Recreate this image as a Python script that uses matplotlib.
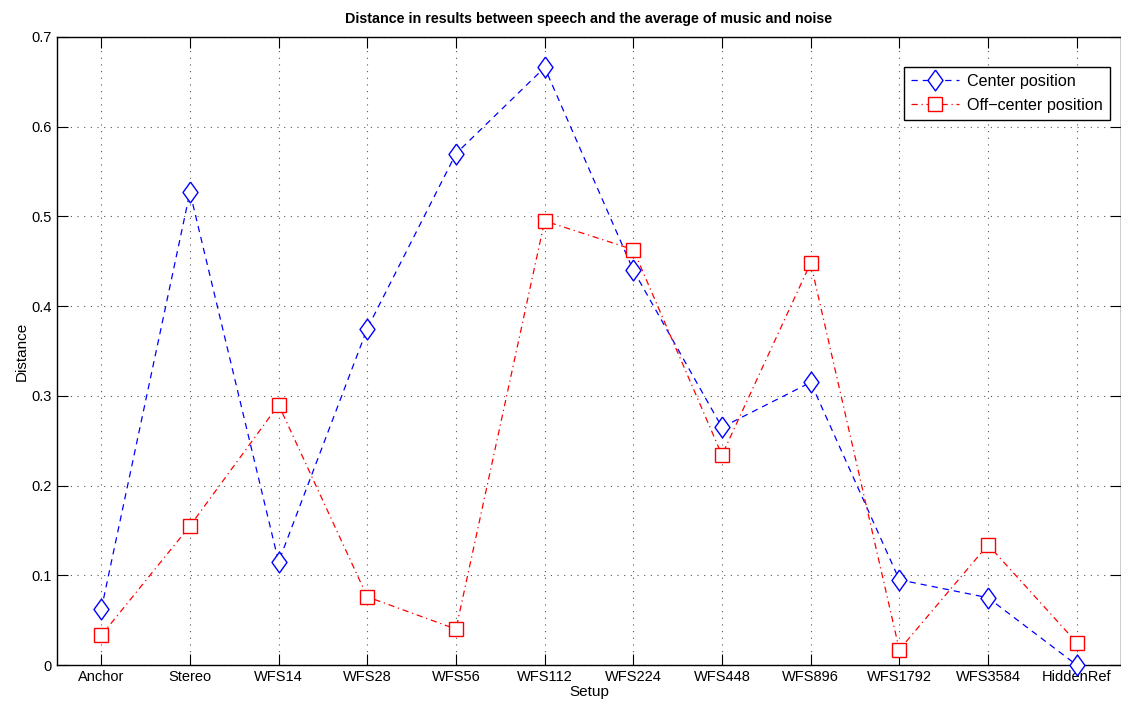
import matplotlib.pyplot as plt

plt.rcParams['font.family'] = ['Liberation Sans', 'DejaVu Sans']

# data
setups = ["Anchor", "Stereo", "WFS14", "WFS28", "WFS56", "WFS112",
          "WFS224", "WFS448", "WFS896", "WFS1792", "WFS3584", "HiddenRef"]
center = [0.062, 0.527, 0.115, 0.375, 0.570, 0.666,
          0.440, 0.265, 0.315, 0.095, 0.075, 0.0]
off_center = [0.033, 0.155, 0.290, 0.076, 0.040, 0.495,
              0.463, 0.234, 0.448, 0.017, 0.134, 0.025]

x = list(range(1, len(setups) + 1))

# MATLAB-like diamond, a bit wider than matplotlib's 'd'
diamond = [(0, 1), (0.72, 0), (0, -1), (-0.72, 0), (0, 1)]

fig = plt.figure(figsize=(11.21, 7.02), dpi=100)
ax = fig.add_axes([0.0508, 0.0527, 0.9492, 0.8946])

ax.plot(x, center, color='blue', linestyle='--', linewidth=0.9,
        marker=diamond, markersize=15, markerfacecolor='white',
        markeredgecolor='blue', markeredgewidth=1.0, label='Center position',
        dashes=(5, 4), clip_on=False, zorder=3)
ax.plot(x, off_center, color='red', linestyle='-.', linewidth=0.9,
        marker='s', markersize=10.5, markerfacecolor='white',
        markeredgecolor='red', markeredgewidth=1.0, label='Off\u2212center position',
        dashes=(5, 3, 1, 3), clip_on=False, zorder=3)

ax.set_xlim(0.5, 12.5)
ax.set_ylim(0, 0.7)
ax.set_xticks(x)
ax.set_xticklabels(setups)
ax.set_yticks([0, 0.1, 0.2, 0.3, 0.4, 0.5, 0.6, 0.7])
ax.set_yticklabels(['0', '0.1', '0.2', '0.3', '0.4', '0.5', '0.6', '0.7'])
ax.tick_params(direction='in', top=True, right=True, labelsize=10.5, length=8)
ax.grid(True, linestyle=(0, (1, 5)), color='#555555', linewidth=0.8)
ax.set_axisbelow(True)
for s in ax.spines.values():
    s.set_linewidth(1.0)

ax.set_title('Distance in results between speech and the average of music and noise',
             fontsize=10.3, fontweight='bold', pad=10)
ax.set_xlabel('Setup', fontsize=11, labelpad=1)
ax.set_ylabel('Distance', fontsize=11, labelpad=2)

leg = ax.legend(loc='upper right', bbox_to_anchor=(0.99, 0.953), fontsize=11.6,
                fancybox=False, framealpha=1, edgecolor='black', borderaxespad=0,
                handlelength=3.0, borderpad=0.45, labelspacing=0.55,
                handletextpad=0.5)
leg.get_frame().set_linewidth(1.0)

plt.savefig('out.png', dpi=100)
